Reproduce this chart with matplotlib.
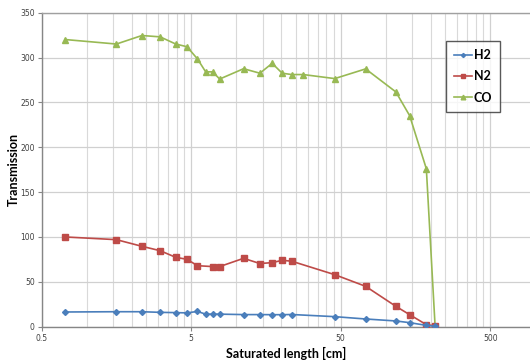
import matplotlib
matplotlib.use("Agg")
import matplotlib.pyplot as plt
from matplotlib.ticker import FixedLocator, NullFormatter, FixedFormatter

# Data
x_h2 = [0.72, 1.58, 2.34, 3.1, 3.94, 4.69, 5.5, 6.25, 6.96, 7.75, 11.2, 14.4,
        17.4, 20.3, 23.5, 45.6, 73.4, 117, 144.6, 187, 214]
h2 = [16.4, 16.7, 16.7, 16.0, 15.7, 15.4, 17.0, 14.0, 14.0, 14.0, 13.5, 13.5,
      13.4, 13.4, 13.6, 11.2, 8.6, 6.4, 4.5, 1.5, 0.5]

x_n2 = [0.72, 1.58, 2.34, 3.1, 3.94, 4.69, 5.5, 6.96, 7.75, 11.2, 14.4,
        17.4, 20.3, 23.5, 45.6, 73.4, 117, 144.6, 187, 214]
n2 = [100, 97, 89.6, 84.7, 77.3, 75.1, 68, 67, 67, 76.2, 70.4,
      71.4, 74, 73, 58, 45, 22.7, 13.4, 2.3, 1.0]

x_co = [0.72, 1.58, 2.34, 3.1, 3.94, 4.69, 5.5, 6.25, 6.96, 7.75, 11.2, 14.4,
        17.4, 20.3, 23.5, 28.1, 45.6, 73.4, 117, 144.6, 187, 214]
co = [320, 315, 324.5, 323, 315, 312, 298.5, 284, 284, 276, 287.5, 282.5,
      293.5, 282.5, 281, 281, 276.5, 287.3, 261.6, 235.2, 176, 0.5]

x_ticks = [0.5, 5, 50, 500]
x_tick_labels = ["0.5", "5", "50", "500"]
y_ticks = [0, 50, 100, 150, 200, 250, 300, 350]

fig = plt.figure(figsize=(5.30, 3.61), dpi=100)
ax = fig.add_axes([0.0787, 0.095, 0.9213, 0.870])

ax.plot(x_h2, h2, color="#4A7EBB", marker="D", markersize=3.0, lw=1.2, label="H2", zorder=4)
ax.plot(x_n2, n2, color="#BE4B48", marker="s", markersize=4.6, lw=1.2, label="N2", zorder=3)
ax.plot(x_co, co, color="#98B954", marker="^", markersize=4.8, lw=1.2, label="CO", zorder=2)

ax.set_xscale("log")
ax.set_xlim(0.5, 923)
ax.set_ylim(0, 350)

minor = []
for d in [0.5, 5, 50, 500]:
    for k in range(2, 10):
        v = d * k
        if v < 923:
            minor.append(v)
ax.xaxis.set_major_locator(FixedLocator(x_ticks))
ax.xaxis.set_major_formatter(FixedFormatter(x_tick_labels))
ax.xaxis.set_minor_locator(FixedLocator(minor))
ax.xaxis.set_minor_formatter(NullFormatter())
ax.set_yticks(y_ticks)

ax.grid(True, which="major", color="#D0D0D0", lw=0.9)
ax.grid(True, which="minor", axis="x", color="#D9D9D9", lw=0.8)
ax.set_axisbelow(True)

for s in ["left", "bottom"]:
    ax.spines[s].set_color("#868686")
    ax.spines[s].set_linewidth(1.0)
ax.spines["top"].set_color("#A0A0A0")
ax.spines["top"].set_linewidth(1.0)
ax.spines["right"].set_visible(False)

ax.tick_params(axis="both", which="major", labelsize=5.5, colors="#868686",
               labelcolor="#404040", length=3, width=0.8, pad=2)
ax.tick_params(axis="x", which="minor", length=0)

ax.set_xlabel("Saturated length [cm]", fontsize=9, fontweight="bold", family="Lato")
ax.xaxis.set_label_coords(0.5, -0.063)
ax.set_ylabel("Transmission", fontsize=9, fontweight="bold", family="Lato")
ax.yaxis.set_label_coords(-0.045, 0.5)

leg = ax.legend(loc="upper left", bbox_to_anchor=(0.828, 0.91),
                prop={"weight": "bold", "size": 9, "family": "Lato"},
                frameon=True, fancybox=False, borderaxespad=0,
                handlelength=1.4, handletextpad=0.15, labelspacing=0.75,
                borderpad=0.65, markerscale=0.7)
leg.get_frame().set_edgecolor("#303030")
leg.get_frame().set_linewidth(1.0)

fig.savefig("out.png", dpi=100)
